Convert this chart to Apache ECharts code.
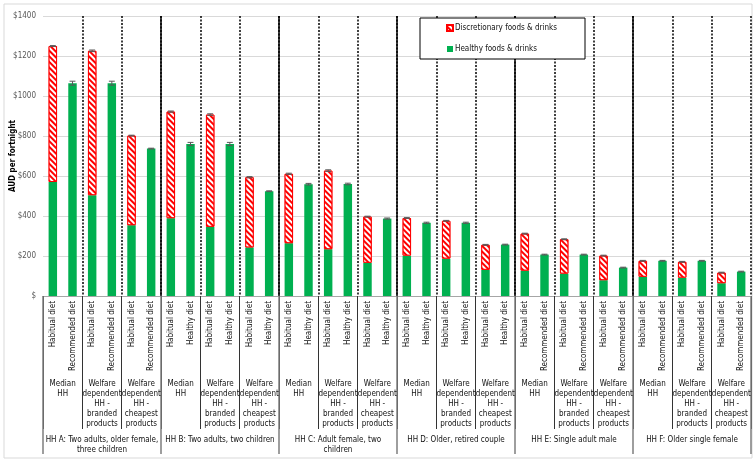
<!DOCTYPE html>
<html>
<head>
<meta charset="utf-8">
<script src="https://cdn.jsdelivr.net/npm/echarts@6/dist/echarts.min.js"></script>
<style>
html,body{margin:0;padding:0;background:#fff;}
#c{width:756px;height:461px;}
</style>
</head>
<body>
<div id="c"></div>
<script>
// ---- data ----
const barLabels = [
 'Habitual diet','Recommended diet','Habitual diet','Recommended diet','Habitual diet','Recommended diet',
 'Habitual diet','Healthy diet','Habitual diet','Healthy diet','Habitual diet','Healthy diet',
 'Habitual diet','Healthy diet','Habitual diet','Healthy diet','Habitual diet','Healthy diet',
 'Habitual diet','Healthy diet','Habitual diet','Healthy diet','Habitual diet','Healthy diet',
 'Habitual diet','Recommended diet','Habitual diet','Recommended diet','Habitual diet','Recommended diet',
 'Habitual diet','Recommended diet','Habitual diet','Recommended diet','Habitual diet','Recommended diet'
];
const subLabelSet = ['Median\nHH', 'Welfare\ndependent\nHH -\nbranded\nproducts', 'Welfare\ndependent\nHH -\ncheapest\nproducts'];
const subgroupLabels = [].concat(subLabelSet, subLabelSet, subLabelSet, subLabelSet, subLabelSet, subLabelSet);
const householdLabels = [
 'HH A: Two adults, older female,\nthree children',
 'HH B: Two adults, two children',
 'HH C: Adult female, two\nchildren',
 'HH D: Older, retired couple',
 'HH E: Single adult male',
 'HH F: Older single female'
];
const healthyValues = [
 570, 1064, 504, 1064, 354, 737,
 389, 760, 346, 760, 243, 524,
 264, 559, 234, 560, 166, 387,
 202, 366, 187, 366, 131, 257,
 127, 207, 112, 207, 79, 142,
 96, 176, 92, 176, 64, 122
];
const discretionaryValues = [
 680, null, 722, null, 448, null,
 533, null, 561, null, 351, null,
 347, null, 393, null, 231, null,
 188, null, 189, null, 125, null,
 185, null, 172, null, 123, null,
 80, null, 79, null, 53, null
];
const errorValues = [
 2, 10, 4, 10, 2, 2,
 3, 8, 4, 8, 3, 2,
 3, 4, 4, 4, 2, 3,
 2, 3, 2, 3, 2, 2,
 2, 2, 2, 2, 2, 2,
 2, 2, 2, 2, 2, 2
];
const yTicks = { min: 0, max: 1400, interval: 200 };

// ---- chart ----
const FONT = "'DejaVu Sans Condensed', 'DejaVu Sans', sans-serif";
const chart = echarts.init(document.getElementById('c'), null, { renderer: 'canvas' });

const errData = healthyValues.map((h, i) => [i, h + (discretionaryValues[i] || 0), errorValues[i]]);

const option = {
  animation: false,
  textStyle: { fontFamily: FONT, fontSize: 8, color: '#111' },
  graphic: [{
    type: 'rect', shape: { x: 4, y: 4, width: 748, height: 454 },
    style: { fill: 'none', stroke: '#d9d9d9', lineWidth: 1 }, z: -1
  }],
  grid: { left: 43, right: 5, top: 16, bottom: 165, containLabel: false, outerBoundsMode: 'none' },
  legend: {
    orient: 'vertical', left: 420, top: 18,
    padding: [6, 28, 6, 26], itemGap: 13, itemWidth: 6, itemHeight: 6,
    borderColor: '#000', borderWidth: 1, backgroundColor: '#fff',
    textStyle: { fontFamily: FONT, fontSize: 8, color: '#111', padding: [0, 0, 0, -3] },
    data: [
      { name: 'Discretionary foods & drinks', icon: 'rect' },
      { name: 'Healthy foods & drinks', icon: 'rect' }
    ]
  },
  xAxis: [
    {
      type: 'category', data: barLabels, position: 'bottom',
      axisLine: { show: true, lineStyle: { color: '#a6a6a6', width: 1 } },
      axisTick: { show: false },
      axisLabel: { interval: 0, rotate: 90, margin: 5, fontFamily: FONT, fontSize: 8, color: '#111' },
      splitLine: { show: false }
    },
    {
      type: 'category', data: subgroupLabels, position: 'bottom', offset: 0,
      axisLine: { show: false },
      axisTick: { show: true, interval: 0, length: 133, lineStyle: { color: '#333', width: 1 } },
      axisLabel: { interval: 0, margin: 83, lineHeight: 10, fontFamily: FONT, fontSize: 8, color: '#111', align: 'center' },
      splitLine: { show: true, interval: 0, showMinLine: false, showMaxLine: true,
        lineStyle: { color: '#000', width: 1.5, type: [2, 1.5] } }
    },
    {
      type: 'category', data: householdLabels, position: 'bottom', offset: 0,
      axisLine: { show: false },
      axisTick: { show: true, interval: 0, length: 158, lineStyle: { color: '#7f7f7f', width: 1.5 } },
      axisLabel: { interval: 0, margin: 139, lineHeight: 10, fontFamily: FONT, fontSize: 8, color: '#111', align: 'center' },
      splitLine: { show: true, interval: 0, showMinLine: false, showMaxLine: false,
        lineStyle: { color: '#000', width: 1.5, type: 'solid' } }
    }
  ],
  yAxis: {
    type: 'value', min: yTicks.min, max: yTicks.max, interval: yTicks.interval,
    name: 'AUD per fortnight', nameLocation: 'middle', nameRotate: 90, nameGap: 26,
    nameMoveOverlap: false,
    nameTextStyle: { fontFamily: FONT, fontSize: 8, fontWeight: 'bold', color: '#000' },
    axisLine: { show: false }, axisTick: { show: false },
    axisLabel: { margin: 7, fontFamily: FONT, fontSize: 8, color: '#595959',
      formatter: function (v) { return v === 0 ? '$' : '$' + v; } },
    splitLine: { show: true, lineStyle: { color: '#d9d9d9', width: 1 } }
  },
  series: [
    {
      name: 'Healthy foods & drinks', type: 'bar', stack: 'total', xAxisIndex: 0,
      barWidth: '43%', data: healthyValues,
      itemStyle: { color: '#00b050' }, z: 3
    },
    {
      name: 'Discretionary foods & drinks', type: 'bar', stack: 'total', xAxisIndex: 0,
      barWidth: '43%', data: discretionaryValues,
      itemStyle: {
        color: '#ffffff', borderColor: '#ff0000', borderWidth: 1,
        decal: { symbol: 'rect', symbolSize: 1, color: '#ff0000', backgroundColor: '#ffffff',
          dashArrayX: [1, 0], dashArrayY: [1.8, 1.8], rotation: Math.PI / 4 }
      }, z: 3
    },
    {
      name: 'err', type: 'custom', xAxisIndex: 0, data: errData, z: 5,
      renderItem: function (params, api) {
        const x = api.value(0), top = api.value(1), e = api.value(2);
        const hi = api.coord([x, top + e]);
        const lo = api.coord([x, top - e]);
        const w = api.size([1, 0])[0] * 0.3;
        const style = { stroke: '#595959', lineWidth: 1 };
        return { type: 'group', children: [
          { type: 'line', shape: { x1: hi[0], y1: hi[1], x2: lo[0], y2: lo[1] }, style: style },
          { type: 'line', shape: { x1: hi[0] - w / 2, y1: hi[1], x2: hi[0] + w / 2, y2: hi[1] }, style: style },
          { type: 'line', shape: { x1: lo[0] - w / 2, y1: lo[1], x2: lo[0] + w / 2, y2: lo[1] }, style: style }
        ]};
      }
    }
  ]
};
chart.setOption(option);
</script>
</body>
</html>
